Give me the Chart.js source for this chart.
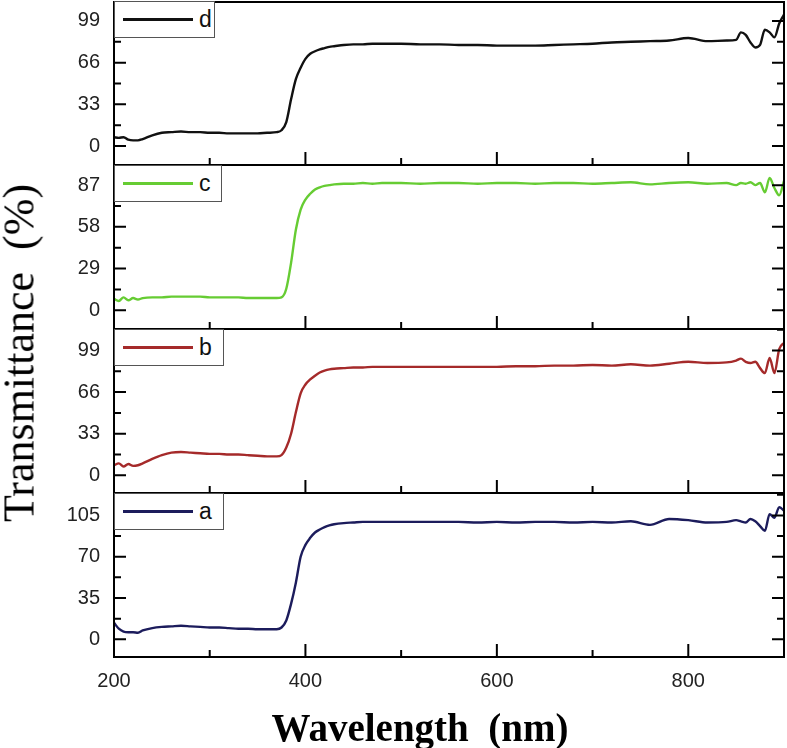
<!DOCTYPE html>
<html><head><meta charset="utf-8">
<script src="https://cdn.jsdelivr.net/npm/chart.js@4.4.0/dist/chart.umd.min.js"></script>
<style>
html,body{margin:0;padding:0;background:#fff;}
#wrap{position:relative;width:787px;height:748px;overflow:hidden;background:#fff;}
canvas{position:absolute;left:0;}
.leg{position:absolute;z-index:5;background:#fff;border:1px solid #555;box-sizing:border-box;height:37px;font-family:"Liberation Sans",Arial,sans-serif;font-size:23px;color:#111;}
.leg .ln{position:absolute;left:8px;top:16px;width:70px;height:3px;}
.leg .tx{position:absolute;left:84px;top:4px;line-height:26px;}
#ytitle{position:absolute;z-index:5;font-family:"Liberation Serif","Times New Roman",serif;font-size:44px;white-space:pre;left:19px;top:353px;transform:translate(-50%,-50%) rotate(-90deg);color:#000;}
#xtitle{position:absolute;z-index:5;font-family:"Liberation Serif","Times New Roman",serif;font-weight:bold;font-size:39px;white-space:pre;left:420px;top:727px;transform:translate(-50%,-50%);color:#000;}
</style></head>
<body><div id="wrap">
<canvas id="cd" width="787" height="170" style="top:0px"></canvas>
<canvas id="cc" width="787" height="175" style="top:160px"></canvas>
<canvas id="cb" width="787" height="175" style="top:324px"></canvas>
<canvas id="ca" width="787" height="260" style="top:488px"></canvas>
<div class="leg" style="left:114px;top:1px;width:101px"><div class="ln" style="background:#111"></div><div class="tx">d</div></div>
<div class="leg" style="left:114px;top:165px;width:108px"><div class="ln" style="background:#66cc33"></div><div class="tx">c</div></div>
<div class="leg" style="left:114px;top:329px;width:110px"><div class="ln" style="background:#a52a2a"></div><div class="tx">b</div></div>
<div class="leg" style="left:114px;top:493px;width:110px"><div class="ln" style="background:#1c1c5c"></div><div class="tx">a</div></div>
<div id="ytitle">Transmittance  (%)</div>
<div id="xtitle">Wavelength  (nm)</div>
</div>
<script>
const wavelength = [200,205,210,215,220,225,230,240,250,260,270,280,290,300,310,320,330,340,350,360,370,375,380,385,390,395,400,405,410,415,420,425,430,440,450,460,470,480,500,520,540,560,580,600,620,640,660,680,700,720,740,760,780,800,820,840,850,855,860,865,870,875,880,885,890,895,900];

const seriesD = [7,6.5,7,5,4.5,4.5,5.5,8.5,10.5,11,11.5,11,11,10.5,10.5,10,10,10,10,10.5,11,
 12.5,19,37,53,62,69,73,75,76.5,77.5,78.5,79,
 80,80.5,80.5,81,81,
 81,80.5,80.5,80,80,79.5,79.5,79.5,80,80.5,81,82,82.5,83,83.5,85.5,83,83.5,
 84,90,88,82,78,80,92,90,86,97,104];
const seriesC = [8,6.5,9,7,8.5,7.5,8.5,9,9,9.5,9.5,9.5,9.5,9,9,9,9,8.5,8.5,8.5,8.5,
 9,15,33,56,70,77,81,84,85.5,86.5,87,87.5,
 88,88,88.5,88,88.5,
 88.5,88,88.5,88.5,88,88.5,88.5,88,88.5,88.5,88,88.5,89,87.5,88.5,89,88,88.5,
 87,88.5,88,89,87,88.5,82,92,85,80,90];
const seriesB = [8,9.5,7,9,7.5,8,9.5,13,16,18,18.5,18,17.5,17,17,16.5,16.5,16,15.5,15,15,
 16,22,33,50,65,72,76,79,81.5,83,84,84.5,
 85,85.5,85.5,86,86,
 86,86,86,86,86,86,86.5,86.5,87,87,87.5,87,88,87,88.5,90,89,89.5,
 91,92.5,90,89,90,85,81,93,81,100,105];
const seriesA = [14,9,6.5,6,6,5.5,7.5,9.5,10.5,11,11.5,11,10.5,10,10,9.5,9,9,8.5,8.5,8.5,
 10,16,30,48,70,80,86,90.5,93,95,96.5,97.5,
 98.5,99,99.5,99.5,99.5,
 99.5,99.5,99.5,99.5,99,99.5,99,99.5,99.5,99,99.5,99,100,97,102,101,99,99.5,
 101,100,99,102,100,96,92,106,103,112,109];

const xTicks = [200,400,600,800];
const xMinorTicks = [300,500,700];
const yTicksD = [0,33,66,99];
const yTicksC = [0,29,58,87];
const yTicksB = [0,33,66,99];
const yTicksA = [0,35,70,105];

function minorOf(t, min, max){
  const step = t[1]-t[0]; const out=[];
  for (let v = t[0]-step/2; v < max; v += step) { if (v>min && !t.includes(v)) out.push(v); }
  return out;
}

function makeFrame(yT){
  return {
    id:'frame',
    afterDatasetsDraw(chart){
      const {ctx, chartArea:a, scales} = chart;
      const xs = scales.x, ys = scales.y;
      ctx.save();
      ctx.strokeStyle = '#000'; ctx.lineWidth = 2;
      ctx.beginPath();
      const yMin = minorOf(yT, ys.min, ys.max);
      yT.forEach(v=>{ const p=ys.getPixelForValue(v); ctx.moveTo(a.left,p); ctx.lineTo(a.left+12,p); ctx.moveTo(a.right,p); ctx.lineTo(a.right-12,p); });
      yMin.forEach(v=>{ const p=ys.getPixelForValue(v); ctx.moveTo(a.left,p); ctx.lineTo(a.left+7,p); ctx.moveTo(a.right,p); ctx.lineTo(a.right-7,p); });
      xTicks.forEach(v=>{ const p=xs.getPixelForValue(v); ctx.moveTo(p,a.bottom); ctx.lineTo(p,a.bottom-13); });
      xMinorTicks.forEach(v=>{ const p=xs.getPixelForValue(v); ctx.moveTo(p,a.bottom); ctx.lineTo(p,a.bottom-7); });
      ctx.stroke();
      ctx.strokeRect(a.left, a.top, a.right-a.left, a.bottom-a.top);
      ctx.restore();
    }
  };
}

function makeChart(id, values, color, yT, yMin, yMax, pad, showX){
  const ctx = document.getElementById(id);
  return new Chart(ctx, {
    type:'line',
    data:{ datasets:[{ data: wavelength.map((w,i)=>({x:w,y:values[i]})), borderColor:color, borderWidth:2.4, pointRadius:0, cubicInterpolationMode:'monotone', fill:false }]},
    options:{
      responsive:false, animation:false, devicePixelRatio:1,
      layout:{ padding: pad },
      plugins:{ legend:{display:false}, tooltip:{enabled:false} },
      scales:{
        x:{ type:'linear', min:200, max:900, display:showX,
            grid:{display:false, drawTicks:false}, border:{display:false},
            afterBuildTicks:(s)=>{ s.ticks = xTicks.map(v=>({value:v})); },
            afterFit:(s)=>{ s.height = showX ? 40 : 0; },
            ticks:{ color:'#222', font:{family:'"Liberation Sans", Arial, sans-serif', size:20}, padding:12, maxRotation:0, autoSkip:false } },
        y:{ type:'linear', min:yMin, max:yMax,
            grid:{display:false, drawTicks:false}, border:{display:false},
            afterBuildTicks:(s)=>{ s.ticks = yT.map(v=>({value:v})); },
            afterFit:(s)=>{ s.width = 114; s.paddingTop = 0; s.paddingBottom = 0; },
            ticks:{ color:'#222', font:{family:'"Liberation Sans", Arial, sans-serif', size:20}, padding:14 } }
      }
    },
    plugins:[makeFrame(yT)]
  });
}

makeChart('cd', seriesD, '#111111', yTicksD, -15, 114, {top:2,bottom:5,left:0,right:3}, false);
makeChart('cc', seriesC, '#66cc33', yTicksC, -13, 101, {top:5,bottom:6,left:0,right:3}, false);
makeChart('cb', seriesB, '#a52a2a', yTicksB, -14, 116, {top:5,bottom:6,left:0,right:3}, false);
makeChart('ca', seriesA, '#1c1c5c', yTicksA, -15, 124, {top:5,bottom:51,left:0,right:3}, true);
</script>
</body></html>
